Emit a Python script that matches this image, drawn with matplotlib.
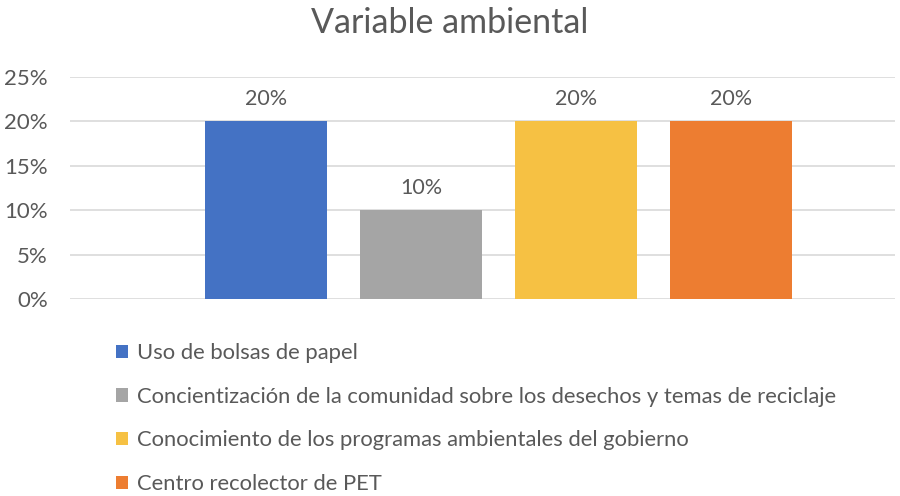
import matplotlib
matplotlib.use("Agg")
import matplotlib.pyplot as plt
from matplotlib.patches import Patch

title = "Variable ambiental"
categories = ["Uso de bolsas de papel",
              "Concientización de la comunidad sobre los desechos y temas de reciclaje",
              "Conocimiento de los programas ambientales del gobierno",
              "Centro recolector de PET"]
values = [0.20, 0.10, 0.20, 0.20]
colors = ["#4472C4", "#A5A5A5", "#F6C143", "#ED7D31"]
yticks = [0, 0.05, 0.10, 0.15, 0.20, 0.25]
ytick_labels = ["0%", "5%", "10%", "15%", "20%", "25%"]

plt.rcParams['font.family'] = ['Lato', 'DejaVu Sans']
txt = "#595959"

fig = plt.figure(figsize=(9, 4.96), dpi=100)
ax = fig.add_axes([70/900, 1-299/496, 825/900, (299-77)/496])

xs = list(range(len(values)))
bars = ax.bar(xs, values, width=122/155, color=colors, zorder=3)
for x, v in zip(xs, values):
    ax.text(x, v + 0.0135, f"{v*100:.0f}%", ha="center", va="bottom",
            fontsize=15.5, color=txt)

ax.set_xlim(-196/155, 629/155)
ax.set_ylim(0, 0.25)
ax.set_yticks(yticks)
ax.set_yticklabels(ytick_labels, fontsize=16, color=txt)
ax.set_xticks([])
ax.tick_params(axis="y", length=0, pad=16)
ax.grid(axis="y", color="#D9D9D9", linewidth=1.2, zorder=0)
for s in ax.spines.values():
    s.set_visible(False)

fig.text(0.5, 1-23/496, title, ha="center", va="center", fontsize=24.5, color=txt)

handles = [Patch(facecolor=c, edgecolor="none") for c in colors]
fig.legend(handles, categories, loc="upper left",
           bbox_to_anchor=(116/900, 1-343/496), frameon=False,
           fontsize=15.8, labelcolor=txt, handlelength=0.55, handleheight=0.55,
           handletextpad=0.4, labelspacing=1.08, borderpad=0, borderaxespad=0)

fig.savefig("out.png", dpi=100)
